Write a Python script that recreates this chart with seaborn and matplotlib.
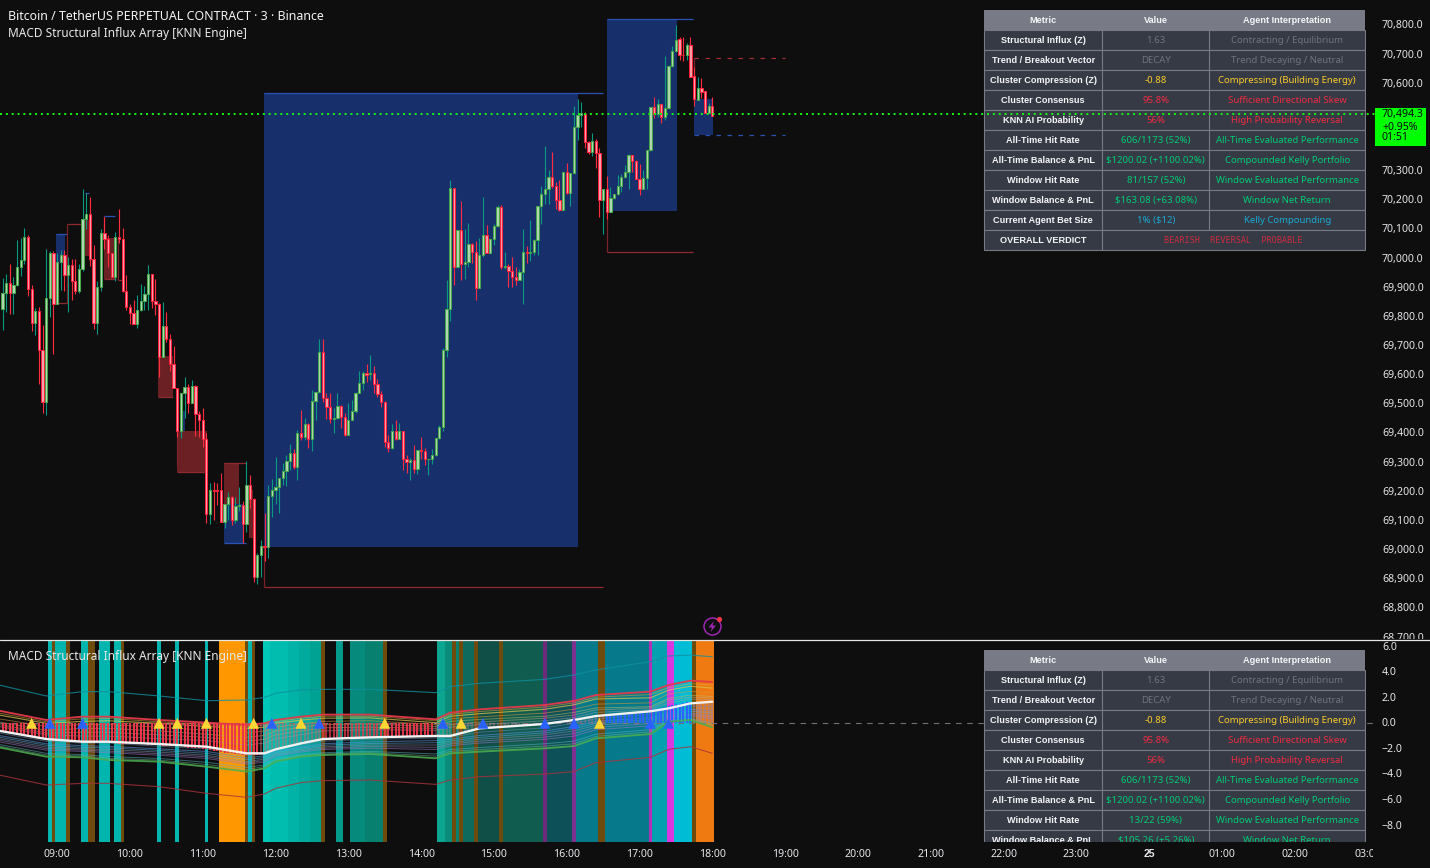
import matplotlib
matplotlib.use("Agg")
import matplotlib.pyplot as plt
from matplotlib.lines import Line2D
from matplotlib.patches import Rectangle, Circle, Polygon
from matplotlib.transforms import Bbox, IdentityTransform, TransformedBbox, ScaledTranslation
import numpy as np
import seaborn as sns

# -- candles: 3 minute bars, first one is 45 minutes before 09:00 --
opens = [69828,69881,69915,69883,69908,69970,69995,70073,69897,69780,69819,69687,69508,69864,70018,69845,69987,70011,69945,69977,69924,69890,69963,70135,70152,69997,69780,69901,70087,70068,70020,69938,70073,70066,69888,69835,69814,69777,69822,69853,69877,69946,69856,69845,69663,69768,69725,69639,69557,69407,69539,69558,69505,69563,69466,69447,69382,69125,69205,69205,69205,69097,69157,69181,69104,69150,69154,69090,69222,69176,68909,68982,69013,69011,69184,69205,69217,69246,69270,69306,69332,69285,69401,69389,69431,69382,69510,69541,69678,69523,69492,69451,69453,69493,69455,69395,69445,69476,69538,69572,69606,69603,69606,69571,69537,69509,69372,69351,69407,69382,69407,69313,69303,69308,69277,69342,69339,69311,69312,69325,69383,69421,69685,69826,70241,69972,70097,69982,69987,70049,70024,69900,70011,70080,70020,70066,70111,70176,69970,69974,69958,69936,69928,69953,70021,70019,70021,70064,70179,70220,70238,70279,70250,70202,70167,70296,70224,70292,70450,70491,70495,70401,70366,70402,70363,70202,70238,70161,70207,70220,70248,70279,70296,70354,70334,70274,70240,70275,70371,70519,70497,70529,70487,70515,70660,70711,70752,70700,70697,70732,70625,70545,70584,70574,70500,70522]
highs = [69933,69947,69981,69936,70064,70071,70105,70081,69909,69829,69834,69772,70033,70026,70026,70018,70029,70029,70004,69998,69998,69981,70239,70224,70211,70047,69922,70100,70144,70081,70020,70091,70170,70105,69944,69844,69858,69875,69913,69906,69978,69946,69930,69846,69851,69817,69741,69700,69557,69539,69594,69570,69583,69566,69477,69487,69403,69230,69232,69230,69263,69158,69199,69185,69182,69216,69168,69306,69257,69179,68989,69034,69127,69223,69244,69319,69247,69298,69326,69363,69346,69412,69480,69453,69435,69549,69541,69724,69724,69538,69538,69487,69538,69497,69469,69505,69515,69542,69614,69614,69638,69669,69631,69586,69546,69510,69394,69432,69446,69436,69407,69326,69316,69360,69342,69388,69350,69312,69347,69383,69429,69693,69926,70269,70241,70097,70196,70100,70122,70052,70059,70070,70210,70114,70070,70118,70184,70184,70022,69981,70005,69970,69964,70100,70043,70132,70067,70179,70249,70386,70304,70366,70262,70269,70296,70327,70292,70523,70547,70536,70503,70402,70431,70409,70378,70238,70283,70247,70220,70287,70290,70321,70359,70354,70338,70324,70304,70371,70519,70553,70547,70529,70694,70664,70729,70801,70759,70759,70738,70759,70657,70622,70618,70574,70533,70553]
lows = [69755,69817,69810,69810,69906,69940,69981,69872,69751,69738,69570,69470,69463,69800,69673,69844,69892,69889,69817,69858,69878,69882,69957,70100,69976,69758,69741,69889,70033,69972,69938,69923,70055,69885,69824,69776,69777,69762,69821,69822,69824,69830,69806,69595,69663,69714,69614,69557,69388,69385,69453,69471,69505,69392,69389,69355,69093,69090,69103,69156,69097,69077,69103,69087,69094,69135,69023,69062,69143,68890,68884,68909,68962,68974,69113,69158,69127,69223,69220,69275,69278,69240,69378,69378,69350,69341,69446,69538,69509,69450,69437,69403,69451,69420,69391,69395,69445,69469,69538,69549,69577,69583,69539,69525,69491,69354,69337,69346,69379,69380,69276,69265,69240,69265,69262,69312,69292,69257,69295,69323,69382,69408,69663,69787,69909,69972,69927,69930,69971,69986,69859,69900,70006,70020,70020,70046,70109,69964,69965,69903,69903,69909,69928,69844,69986,69993,70013,70013,70119,70187,70187,70243,70170,70164,70167,70221,70180,70291,70407,70451,70379,70359,70352,70311,70143,70084,70136,70161,70204,70219,70229,70277,70239,70297,70274,70218,70240,70239,70370,70483,70487,70466,70475,70514,70658,70710,70681,70679,70681,70624,70523,70545,70551,70500,70500,70490]
closes = [69881,69915,69883,69908,69970,69995,70073,69897,69780,69819,69687,69508,69864,70018,69845,69987,70011,69945,69977,69924,69890,69963,70135,70152,69997,69780,69901,70087,70068,70020,69938,70073,70066,69888,69835,69814,69777,69822,69853,69877,69946,69856,69845,69663,69768,69725,69639,69557,69407,69539,69558,69505,69563,69466,69447,69382,69125,69205,69204,69203,69097,69157,69181,69104,69150,69155,69090,69222,69176,68909,68982,69013,69011,69184,69205,69217,69246,69270,69306,69332,69285,69401,69389,69431,69382,69510,69541,69678,69523,69492,69451,69453,69493,69455,69395,69445,69476,69538,69572,69606,69602,69607,69571,69537,69509,69372,69351,69407,69382,69407,69313,69303,69308,69277,69342,69339,69311,69312,69325,69383,69421,69685,69826,70241,69972,70097,69982,69987,70049,70024,69900,70011,70080,70020,70066,70111,70176,69970,69975,69958,69936,69928,69953,70021,70019,70021,70064,70179,70220,70238,70279,70250,70202,70167,70296,70224,70292,70450,70491,70498,70401,70366,70402,70363,70202,70238,70161,70207,70220,70248,70279,70296,70354,70334,70274,70240,70275,70371,70519,70497,70529,70487,70515,70660,70711,70749,70699,70698,70732,70624,70546,70584,70572,70500,70522,70490]
first_bar = -15
last_price = 70494.3

# -- shaded zones on the price pane --
zone_start = [56.8, 151.1, 175.0, -0.3, 7.7, 12.9, 27.8, 33.0, 34.3, 45.8, 45.8, 52.7]
zone_end = [143.1, 170.3, 180.2, 2.2, 8.8, 16.2, 31.9, 41.1, 35.1, 50.0, 51.1, 53.8]
zone_top = [70568, 70822, 70547, 70084, 70132, 70069, 69666, 69408, 69477, 69299, 69158, 69206]
zone_bottom = [69010, 70163, 70424, 69985, 70009, 69929, 69526, 69269, 69408, 69158, 69024, 69041]
zone_kind = ['b', 'b', 'b', 'b', 'r', 'r', 'r', 'r', 'b', 'r', 'b', 'r']

level_start = [56.8, 56.8, 151.1, 151.1, -0.3, 2.8, -0.8, 7.7, 12.9, 12.9, 16.7, 27.8, 33.0, 45.8, 45.8]
level_end = [150.0, 150.0, 174.7, 174.7, 2.8, 6.6, 2.8, 8.8, 15.9, 16.2, 17.9, 31.9, 41.1, 51.9, 51.9]
level_price = [70568, 68873, 70822, 70022, 70084, 70117, 69846, 70224, 70145, 69929, 69926, 69526, 69269, 69299, 69024]
level_kind = ['b', 'r', 'b', 'r', 'b', 'r', 'r', 'b', 'b', 'r', 'r', 'r', 'r', 'r', 'b']

stem_at = [56.8, 151.1, 2.8, 12.9, 16.7, 33.0, 175.0]
stem_top = [69010, 70163, 70117, 70145, 70069, 69408, 70687]
stem_bottom = [68873, 70022, 69846, 70069, 69926, 69290, 70547]

dash_end = 200
dash_start = 175.0
dash_red = 70687
dash_blue = 70423

# -- oscillator pane --
knot_bar = [-16,-3,7,14,28,41,52,57,60,67,73,86,104,108,116,134,142,148,163,168,174,180]
line_white = [-0.58,-1.23,-1.44,-1.44,-1.62,-1.83,-2.35,-2.35,-2.04,-1.57,-1.23,-1.10,-0.99,-0.99,-0.40,-0.05,0.26,0.57,0.94,1.17,1.56,1.69]
line_red = [0.99,0.26,0.52,0.52,0.26,0.05,-0.13,0.0,0.26,0.52,0.68,0.68,0.31,0.83,1.09,1.43,1.75,2.21,2.48,3.0,3.34,3.23]
line_green = [-1.88,-2.61,-2.66,-2.87,-3.0,-3.39,-3.78,-3.52,-3.0,-2.61,-2.48,-2.40,-2.74,-2.35,-2.22,-1.96,-1.78,-1.18,-0.84,0.13,0.26,-0.32]
line_teal = [3.0,2.14,2.48,2.48,2.14,1.77,1.82,2.03,2.35,2.61,2.66,2.66,2.40,2.87,3.13,3.44,3.78,4.17,4.82,5.27,5.34,5.21]
line_maroon = [-4.04,-4.83,-4.70,-4.70,-4.96,-5.48,-5.79,-5.53,-5.09,-4.64,-4.49,-4.44,-4.78,-4.44,-4.18,-3.97,-3.78,-3.08,-2.66,-2.04,-1.83,-2.35]
line_gold = [0.8,0.12,0.35,0.38,0.12,-0.1,-0.28,-0.15,0.13,0.4,0.55,0.55,0.2,0.7,0.92,1.27,1.6,2.05,2.25,2.8,3.1,3.0]
line_yellow = [0.65,0.0,0.15,0.2,0.0,-0.25,-0.4,-0.3,0.0,0.25,0.4,0.42,0.05,0.55,0.75,1.1,1.45,1.9,2.0,2.6,2.9,2.75]
line_orange = [0.35,-0.25,-0.1,-0.1,-0.3,-0.55,-0.75,-0.6,-0.3,-0.05,0.15,0.2,-0.1,0.35,0.5,0.8,1.1,1.5,1.6,2.3,2.5,2.4]
line_khaki = [0.1,-0.55,-0.4,-0.4,-0.6,-0.85,-1.1,-0.95,-0.6,-0.3,-0.1,-0.05,-0.25,0.15,0.3,0.55,0.85,1.2,1.3,1.95,2.2,2.1]
line_sand = [-0.1,-0.75,-0.7,-0.7,-0.9,-1.1,-1.4,-1.25,-0.9,-0.6,-0.35,-0.3,-0.4,-0.1,0.1,0.4,0.65,1.05,1.2,1.8,2.05,2.0]
line_grey = [-0.25,-0.9,-1.0,-1.0,-1.2,-1.35,-1.7,-1.55,-1.2,-0.9,-0.6,-0.5,-0.55,-0.3,-0.1,0.2,0.45,0.85,1.05,1.6,1.9,1.85]
line_steel = [-0.75,-1.4,-1.55,-1.55,-1.8,-2.0,-2.5,-2.4,-2.05,-1.7,-1.4,-1.25,-1.15,-1.1,-0.7,-0.35,0.0,0.35,0.7,1.0,1.35,1.3]
line_blue = [-0.95,-1.6,-1.75,-1.8,-2.0,-2.2,-2.7,-2.55,-2.2,-1.85,-1.6,-1.45,-1.35,-1.25,-0.95,-0.6,-0.25,0.15,0.45,0.8,1.1,1.0]
line_sky = [-1.08,-1.72,-1.88,-1.92,-2.12,-2.35,-2.85,-2.68,-2.3,-1.95,-1.72,-1.58,-1.52,-1.38,-1.1,-0.75,-0.42,0.0,0.3,0.68,0.95,0.82]
line_slate = [-1.2,-1.85,-2.0,-2.05,-2.25,-2.5,-3.0,-2.8,-2.4,-2.05,-1.85,-1.7,-1.7,-1.5,-1.25,-0.9,-0.6,-0.15,0.15,0.55,0.8,0.65]
line_lilac = [-1.32,-1.98,-2.1,-2.18,-2.38,-2.62,-3.1,-2.92,-2.5,-2.15,-1.95,-1.82,-1.88,-1.62,-1.4,-1.08,-0.8,-0.32,-0.02,0.48,0.7,0.5]
line_purple = [-1.45,-2.1,-2.2,-2.3,-2.5,-2.75,-3.2,-3.05,-2.6,-2.25,-2.05,-1.95,-2.05,-1.75,-1.55,-1.25,-1.0,-0.5,-0.2,0.4,0.6,0.35]
line_aqua = [-1.65,-2.35,-2.45,-2.6,-2.75,-3.05,-3.45,-3.25,-2.8,-2.45,-2.3,-2.2,-2.4,-2.05,-1.9,-1.6,-1.4,-0.85,-0.5,0.25,0.4,0.0]
line_mint = [-1.78,-2.48,-2.55,-2.74,-2.88,-3.22,-3.62,-3.38,-2.9,-2.53,-2.39,-2.3,-2.57,-2.2,-2.06,-1.78,-1.6,-1.02,-0.67,0.2,0.33,-0.15]

hist = [-0.7,-0.75,-0.8,-0.85,-0.9,-0.95,-1.0,-1.05,
        -1.1,-1.15,-1.2,-1.2,-1.3,-1.3,-1.35,
        -1.4,-1.4,-1.4,-1.45,-1.45,-1.45,-1.5,-1.5,-1.5,-1.45,-1.5,-1.5,-1.5,-1.5,-1.55,
        -1.55,-1.55,-1.6,-1.6,-1.6,-1.6,-1.6,-1.65,-1.65,-1.65,-1.7,-1.7,-1.7,-1.7,
        -1.75,-1.75,-1.75,-1.8,-1.8,-1.8,-1.85,-1.9,-1.9,-1.95,-1.95,-2.0,-2.0,
        -2.1,-2.15,-2.2,-2.25,-2.3,-2.3,-2.35,-2.4,-2.4,-2.45,-2.5,-2.5,-2.5,-2.45,-2.45,
        -2.4,-2.3,-2.2,-2.1,-2.0,-1.9,-1.8,-1.7,-1.6,-1.55,-1.5,-1.45,-1.4,-1.35,-1.3,-1.25,-1.2,
        -1.2,-1.2,-1.15,-1.15,-1.15,-1.1,-1.1,-1.1,-1.1,-1.1,-1.1,-1.1,-1.05,-1.05,-1.05,-1.05,-1.05,-1.05,-1.05,-1.05,-1.0,-1.0,-1.0,-1.0,-1.0,-1.0,-1.0,-1.0,-1.0,-1.0,-1.0,
        -1.0,-1.0,-1.0,-0.95,-0.9,-0.85,-0.8,-0.7,-0.6,-0.55,-0.5,-0.45,
        -0.4,-0.35,-0.35,-0.3,-0.3,-0.25,-0.25,-0.2,-0.2,-0.15,-0.15,-0.1,-0.1,-0.05,-0.05,0.0,0.05,0.05,
        0.1,0.1,0.15,0.15,0.2,0.2,0.25,0.3,0.3,0.35,0.4,0.45,0.5,0.55,
        0.6,0.6,0.65,0.65,0.7,0.7,0.75,0.75,0.8,0.85,0.85,0.9,0.95,1.0,1.05,1.1,1.15,1.2,1.25,1.35,1.45,1.5,1.55,1.6,1.65,1.65,1.7,1.7,1.7,1.7,1.7,1.7]

signal_bar = [-7,-2,7,28,33,41,54,59,67,72,90,106,111,117,134,142,149,163,168]
signal_kind = ['y','b','b','y','y','y','y','b','y','b','y','b','y','b','b','b','y','b','b']

band_start = [-2.5,-1.5,-0.5,2.5,6.5,8.5,11.5,15.5,17.5,27.5,32.5,40.5,44.5,51.5,52.5,53.5,56.5,58.5,63.5,66.5,69.5,72.5,76.5,80.5,84.5,89.5,104.5,106.5,108.5,109.5,110.5,111.5,114.5,115.5,121.5,122.5,133.5,134.5,141.5,142.5,148.5,150.5,162.5,163.5,167.5,169.5,174.5,175.5]
band_end = [-1.5,-0.5,2.5,3.5,8.5,10.5,14.5,17.5,18.5,28.5,33.5,41.5,51.5,52.5,53.5,54.5,58.5,63.5,66.5,69.5,72.5,73.5,78.5,84.5,89.5,90.5,106.5,108.5,109.5,110.5,111.5,114.5,115.5,121.5,122.5,133.5,134.5,141.5,142.5,148.5,150.5,162.5,163.5,167.5,169.5,174.5,175.5,180.5]
band_color = ['#00b5ad','#6e4a0c','#00b5ad','#6e4a0c','#00b5ad','#6e4a0c','#00b5ad','#00b5ad','#6e4a0c','#00b5ad','#00b5ad','#00b5ad','#ff9800','#6e4a0c','#00b5ad','#6e4a0c','#00c8b8','#00bdb0','#00b3a6','#00ab9d','#00a293','#6e4a0c','#009a8a','#058a7c','#07806f','#6e4a0c','#0ba590','#0a8c7a','#6e4a0c','#0b7f6e','#6e4a0c','#0e6a5c','#6e4a0c','#0f4f47','#6e4a0c','#105c4e','#6d2a7a','#0d5058','#7d308f','#067a8a','#6e4a0c','#067a8a','#b030b8','#04a0b0','#d838e0','#00bcd4','#6e4a0c','#ef7a12']

# -- axes labels --
price_ticks = [70800,70700,70600,70300,70200,70100,70000,69900,69800,69700,69600,69500,69400,69300,69200,69100,69000,68900,68800,68700]
osc_ticks = [6.0,4.0,2.0,0.0,-2.0,-4.0,-6.0,-8.0]
time_ticks = [0,20,40,60,80,100,120,140,160,180,200,220,240,260,280,300,320,340,360]
time_labels = ['09:00','10:00','11:00','12:00','13:00','14:00','15:00','16:00','17:00','18:00','19:00','20:00','21:00','22:00','23:00','25','01:00','02:00','03:00']

# -- the two summary tables --
metric_names = ['Structural Influx (Z)','Trend / Breakout Vector','Cluster Compression (Z)','Cluster Consensus','KNN AI Probability','All-Time Hit Rate','All-Time Balance & PnL','Window Hit Rate','Window Balance & PnL','Current Agent Bet Size']
value_top = ['1.63','DECAY','-0.88','95.8%','56%','606/1173 (52%)','$1200.02 (+1100.02%)','81/157 (52%)','$163.08 (+63.08%)','1% ($12)']
value_low = ['1.63','DECAY','-0.88','95.8%','56%','606/1173 (52%)','$1200.02 (+1100.02%)','13/22 (59%)','$105.26 (+5.26%)','1% ($12)']
agent_notes = ['Contracting / Equilibrium','Trend Decaying / Neutral','Compressing (Building Energy)','Sufficient Directional Skew','High Probability Reversal','All-Time Evaluated Performance','Compounded Kelly Portfolio','Window Evaluated Performance','Window Net Return','Kelly Compounding']
row_colors = ['#6f737f','#6f737f','#fbcb2a','#f02a42','#f02a42','#00cc76','#00cc76','#00cc76','#00cc76','#1aa8d2']
last_lines = ['70,494.3','+0.95%','01:51']

BG = '#0e0e0e'
W, H = 1430, 868
sns.set_theme(style='dark', rc={'axes.facecolor': BG, 'figure.facecolor': BG, 'savefig.facecolor': BG})
plt.rcParams['font.family'] = ['Noto Sans', 'DejaVu Sans']

fig = plt.figure(figsize=(W / 100, H / 100), dpi=100)


def pane(left, top, right, bottom):
    return [left / W, 1 - bottom / H, (right - left) / W, (bottom - top) / H]


ax_osc = fig.add_axes(pane(0, 640, 1375, 842), zorder=0)
ax_tbl = fig.add_axes([0, 0, 1, 1], zorder=1)
ax_px = fig.add_axes(pane(0, 0, 1375, 639), zorder=2)
ax_px.patch.set_alpha(0)
ax_tbl.patch.set_alpha(0)
ax_tbl.set_xlim(0, W)
ax_tbl.set_ylim(H, 0)
ax_tbl.axis('off')

x_lim = (-15.69, 362.06)
label_color = '#e6e7ea'
one_px_up = ScaledTranslation(0, 1 / 100, fig.dpi_scale_trans)

# -- price pane --
ax_px.set_xlim(*x_lim)
ax_px.set_ylim(68695, 70887)
zone_fill = {'b': '#17306b', 'r': '#6b2024'}
edge = {'b': '#2a52b5', 'r': '#8e2a30'}
for s, e, t, b, k in zip(zone_start, zone_end, zone_top, zone_bottom, zone_kind):
    ax_px.axvspan(s, e, ymin=(b - 68695) / 2192, ymax=(t - 68695) / 2192, color=zone_fill[k], lw=0, zorder=1)
ax_px.hlines(level_price, level_start, level_end, colors=[edge[k] for k in level_kind], lw=0.9, zorder=1.5)
ax_px.vlines(stem_at, stem_bottom, stem_top, colors='#7a2429', lw=0.9, zorder=1.5)
ax_px.hlines(dash_red, dash_start, dash_end, colors='#a52c33', lw=0.9, linestyles=(0, (3.6, 5.2)), zorder=1.5)
ax_px.hlines(dash_blue, dash_start, dash_end, colors=edge['b'], lw=0.9, linestyles=(0, (3.6, 5.2)), zorder=1.5)

bars = np.arange(first_bar, first_bar + len(closes))
opens_a, highs_a, lows_a, closes_a = map(np.array, (opens, highs, lows, closes))
up = closes_a >= opens_a
ax_px.vlines(bars[up], lows_a[up], highs_a[up], colors='#0a9a80', lw=0.8, zorder=3)
ax_px.vlines(bars[~up], lows_a[~up], highs_a[~up], colors='#ff2b3f', lw=0.8, zorder=3)
body_low = np.minimum(opens_a, closes_a)
body_h = np.maximum(np.abs(closes_a - opens_a), 2)
ax_px.bar(bars[up], body_h[up], bottom=body_low[up], width=0.62, color='#b4d6b4', edgecolor='#43a74a', lw=0.75, zorder=4)
ax_px.bar(bars[~up], body_h[~up], bottom=body_low[~up], width=0.62, color='#f7a0a8', edgecolor='#ff1f3d', lw=0.75, zorder=4)
ax_px.axhline(last_price, color='#14f014', lw=1.45, linestyle=(0, (1, 1.9)), zorder=5)

ax_px.yaxis.tick_right()
ax_px.set_yticks(price_ticks)
ax_px.set_yticklabels([f'{p:,.1f}' for p in price_ticks])
ax_px.tick_params(axis='y', length=0, pad=5, labelsize=7.6, labelcolor=label_color)
ax_px.set_xticks([])
ax_px.grid(False)
for sp in ax_px.spines.values():
    sp.set_visible(False)
keep = TransformedBbox(Bbox.from_extents(0, H - 639, W, H), IdentityTransform())
for lab in ax_px.get_yticklabels():
    lab.set_transform(lab.get_transform() + one_px_up)
    lab.set_clip_on(True)
    lab.set_clip_box(keep)

# -- oscillator pane --
ax_osc.set_xlim(*x_lim)
ax_osc.set_ylim(-9.29, 6.52)
for s, e, c in zip(band_start, band_end, band_color):
    ax_osc.axvspan(s, e, color=c, lw=0, zorder=1)
ax_osc.axhline(0, color='#6f7178', lw=0.8, linestyle=(0, (5, 5)), zorder=1.5)

for name, col, width, alpha in [(line_teal, '#0f8fa0', 0.8, 0.8), (line_maroon, '#a8323a', 0.8, 0.8),
                                (line_gold, '#e0a83a', 0.7, 0.55),
                                (line_yellow, '#d9c24c', 0.8, 0.75), (line_orange, '#d9983f', 0.7, 0.55),
                                (line_khaki, '#b8b86a', 0.7, 0.55), (line_sand, '#c0aa80', 0.7, 0.5),
                                (line_grey, '#a0a4ac', 0.7, 0.5), (line_steel, '#7088b0', 0.7, 0.55),
                                (line_blue, '#5a90d8', 0.8, 0.6), (line_sky, '#60a8d8', 0.7, 0.55),
                                (line_slate, '#8090b0', 0.7, 0.55), (line_lilac, '#a088c8', 0.7, 0.5),
                                (line_purple, '#9a78c8', 0.7, 0.55), (line_aqua, '#58b0c0', 0.7, 0.55),
                                (line_mint, '#70b890', 0.7, 0.5)]:
    sns.lineplot(x=knot_bar, y=name, ax=ax_osc, color=col, lw=width, alpha=alpha, estimator=None, zorder=2)

for lo, hi, col, alpha in [(-15, 55, '#e8374a', 1.0), (56, 72, '#d8606a', 0.45), (73, 88, '#e8374a', 0.75),
                           (89, 103, '#e8374a', 0.95), (104, 150, '#c87080', 0.35),
                           (151, 174, '#2962ff', 1.0), (175, 180, '#a08090', 0.6)]:
    idx = [i for i in range(len(hist)) if lo <= bars[i] <= hi]
    ax_osc.vlines(bars[idx], 0, np.array(hist)[idx], colors=col, lw=1.5, alpha=alpha, zorder=2.5)

sns.lineplot(x=knot_bar, y=line_red, ax=ax_osc, color='#e5394a', lw=1.35, alpha=0.95, estimator=None, zorder=3)
sns.lineplot(x=knot_bar, y=line_green, ax=ax_osc, color='#4caf50', lw=1.35, alpha=0.85, estimator=None, zorder=3)
sns.lineplot(x=knot_bar, y=line_white, ax=ax_osc, color='#f2f2f2', lw=1.7, estimator=None, zorder=3.5)
sig_y = [0.0] * len(signal_bar)
sns.scatterplot(x=signal_bar, y=sig_y, hue=signal_kind, palette={'y': '#fdd835', 'b': '#2962ff'}, marker='^',
                s=62, linewidth=0, ax=ax_osc, legend=False, zorder=4)

ax_osc.yaxis.tick_right()
ax_osc.set_yticks(osc_ticks)
ax_osc.set_yticklabels([f'{v:.1f}'.replace('-', '\u2212') for v in osc_ticks])
ax_osc.set_xticks(time_ticks)
ax_osc.set_xticklabels(time_labels)
ax_osc.tick_params(axis='y', length=0, pad=5, labelsize=7.6, labelcolor=label_color)
ax_osc.tick_params(axis='x', length=0, pad=5, labelsize=7.6, labelcolor=label_color)
ax_osc.set_xlabel('')
ax_osc.set_ylabel('')
ax_osc.grid(False)
for sp in ax_osc.spines.values():
    sp.set_visible(False)
for lab in ax_osc.get_yticklabels():
    lab.set_transform(lab.get_transform() + one_px_up)
for lab in ax_osc.get_xticklabels():
    lab.set_clip_on(True)
    lab.set_clip_box(TransformedBbox(Bbox.from_extents(0, 0, 1373, H), IdentityTransform()))
    if lab.get_text() == '25':
        lab.set_fontweight('bold')
        lab.set_family('Liberation Sans')

fig.add_artist(Line2D([0, 1], [1 - 639.5 / H] * 2, color='#e6e6e6', lw=0.9, zorder=10))


# -- tables --
def draw_table(top, values, verdict, clip_bottom=None):
    left, right = 984, 1365
    cols = [984, 1102.3, 1209.3, 1365]
    clip = Rectangle((left - 1, top - 1), right - left + 2, (clip_bottom or top + 242) - top + 1, transform=ax_tbl.transData)
    bold = dict(color='#f4f5f7', fontsize=6.6, fontweight='bold', family='Liberation Sans', ha='center', va='center')
    items = []
    items.append(ax_tbl.add_patch(Rectangle((left, top), right - left, 20, fc='#787b86', ec='none')))
    for head, a, b in zip(['Metric', 'Value', 'Agent Interpretation'], cols[:-1], cols[1:]):
        items.append(ax_tbl.text((a + b) / 2, top + 10.8, head, **bold))
    n_rows = len(metric_names) + (1 if verdict else 0)
    for r in range(n_rows):
        y = top + 20 + r * 20
        items.append(ax_tbl.add_patch(Rectangle((left, y), right - left, 20, fc='#363a45', ec='#787b86', lw=0.8)))
        items.append(ax_tbl.plot([cols[1]] * 2, [y, y + 20], color='#787b86', lw=0.8)[0])
        cy = y + 10.8
        if r == len(metric_names):
            items.append(ax_tbl.text((cols[0] + cols[1]) / 2, cy, verdict[0], **bold))
            items.append(ax_tbl.text((cols[1] + cols[3]) / 2, cy, verdict[1], color='#c92c40', fontsize=6.1, ha='center', va='center', family='DejaVu Sans Mono'))
            continue
        items.append(ax_tbl.plot([cols[2]] * 2, [y, y + 20], color='#787b86', lw=0.8)[0])
        items.append(ax_tbl.text((cols[0] + cols[1]) / 2, cy, metric_names[r], **bold))
        items.append(ax_tbl.text((cols[1] + cols[2]) / 2, cy, values[r], color=row_colors[r], fontsize=6.9, ha='center', va='center'))
        items.append(ax_tbl.text((cols[2] + cols[3]) / 2, cy, agent_notes[r], color=row_colors[r], fontsize=6.9, ha='center', va='center'))
    for it in items:
        it.set_clip_on(True)
        it.set_clip_path(clip)


draw_table(9.5, value_top, ('OVERALL VERDICT', 'BEARISH  REVERSAL  PROBABLE'))
draw_table(649.5, value_low, None, clip_bottom=842)

# -- titles, last price tag, icon --
ax_tbl.text(8, 16.5, 'Bitcoin / TetherUS PERPETUAL CONTRACT \u00b7 3 \u00b7 Binance', color='#f4f4f4', fontsize=8.95, ha='left', va='center')
ax_tbl.text(8, 33.5, 'MACD Structural Influx Array [KNN Engine]', color='#e8e8e8', fontsize=8.55, ha='left', va='center')
ax_tbl.text(8, 656.5, 'MACD Structural Influx Array [KNN Engine]', color='#e8e8e8', fontsize=8.55, ha='left', va='center')
ax_tbl.add_patch(Rectangle((1375, 107.7), 51, 38.5, fc='#00ff00', ec='none'))
for line, yy in zip(last_lines, [115, 127, 138]):
    ax_tbl.text(1382, yy, line, color='#0a0a0a', fontsize=7.6, ha='left', va='center')
ax_tbl.add_patch(Circle((712.5, 626.5), 8.5, fc='none', ec='#9c27b0', lw=1.1))
ax_tbl.add_patch(Polygon([(714, 621), (708.5, 627.5), (712, 627.5), (710.5, 632), (716, 625.5), (712.5, 625.5)], fc='#9c27b0', ec='none'))
ax_tbl.add_patch(Circle((719.5, 619.5), 2.6, fc='#f23645', ec='none'))

fig.savefig('out.png', dpi=100)
